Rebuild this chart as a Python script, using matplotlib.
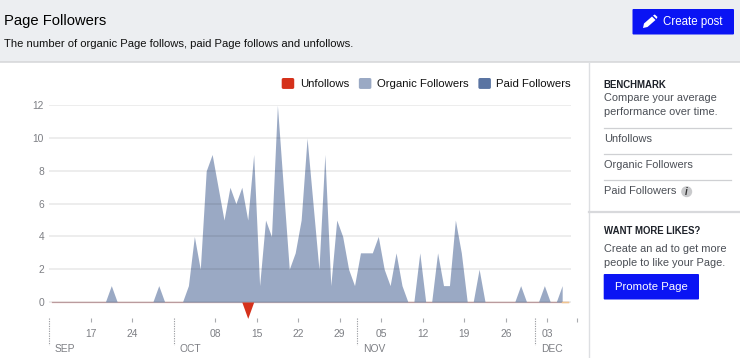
import matplotlib
matplotlib.use("Agg")
import matplotlib.pyplot as plt
import matplotlib.dates as mdates
import numpy as np
import pandas as pd
from matplotlib.patches import Rectangle, Patch, Polygon, Circle, FancyBboxPatch
from matplotlib.legend_handler import HandlerPatch

plt.rcParams['font.family'] = ['Liberation Sans', 'DejaVu Sans']

# ---- data ----
organic = [0,0,0,0,0,0,0,0,0,0,1,0,0,0,0,0,0,0,1,0,0,0,0,1,4,2,8,9,7,5,7,6,7,5,9,1,5,4,12,7,2,3,5,10,6,2,9,1,5,4,2,1,
           3,3,3,4,2,1,3,1,0,0,3,0,0,3,1,1,5,3,0,0,2,0,0,0,0,0,0,1,0,0,0,1,0,0,1]
unfollows = [0]*33 + [-1] + [0]*54
paid = [0]*88
y_ticks = [0, 2, 4, 6, 8, 10, 12]
day_ticks = ['2018-09-17','2018-09-24','2018-10-08','2018-10-15','2018-10-22','2018-10-29','2018-11-05',
             '2018-11-12','2018-11-19','2018-11-26','2018-12-03','2018-12-08']
day_labels = ['17','24','08','15','22','29','05','12','19','26','03','']
month_ticks = ['2018-09-10','2018-10-01','2018-11-01','2018-12-01']
month_labels = ['SEP','OCT','NOV','DEC']
legend_labels = ['Unfollows','Organic Followers','Paid Followers']
benchmark_items = ['Unfollows','Organic Followers','Paid Followers']

C_RED='#d5311b'; C_ORG='#9aa9c4'; C_PAID='#5a74a2'; C_BTN='#0a14f4'; C_TICK='#7d7f84'
C_TXT='#4b4f56'
BODY=7.95

W,H=740,358
fig=plt.figure(figsize=(W/100,H/100),dpi=100,facecolor='white')

# page chrome, in pixel coordinates
ui=fig.add_axes([0,0,1,1]); ui.set_xlim(0,W); ui.set_ylim(H,0); ui.axis('off')
ui.add_patch(Rectangle((0,0),W,61.5,fc='#eceef1',ec='none'))
ui.plot([0,W],[62,62],color='#d5d6d8',lw=1.1)
ui.plot([589.3,589.3],[62,H],color='#dddfe2',lw=1.0)
ui.plot([589,W],[211.5,211.5],color='#d8d9dc',lw=1.6)
ui.text(4.5,20.5,'Page Followers',fontsize=10.6,color='black',va='center')
ui.text(4.5,44.3,'The number of organic Page follows, paid Page follows and unfollows.',fontsize=8.1,color='#111111',va='center')

ui.add_patch(FancyBboxPatch((632.5,9),101.5,25.5,boxstyle='round,pad=0,rounding_size=1',fc=C_BTN,ec='none'))
ui.add_patch(Polygon([[643,28],[644,23.5],[652,16.5],[655.5,20],[647.5,27]],fc='white',ec='none'))
ui.add_patch(Polygon([[653,15.5],[654.8,14.5],[657.5,17],[656.5,19]],fc='white',ec='none'))
ui.text(663,21.5,'Create post',fontsize=8.3,color='white',va='center')

ui.text(603.7,84.5,'BENCHMARK',fontsize=6.9,weight='bold',color='#1d2129',va='center')
ui.text(603.7,98,'Compare your average',fontsize=BODY,color=C_TXT,va='center')
ui.text(603.7,112,'performance over time.',fontsize=BODY,color=C_TXT,va='center')
for yy in [127.5,153.5,180]:
    ui.plot([603.5,731],[yy,yy],color='#cfd0d3',lw=0.9)
for yy,s in zip([138.5,165,191],benchmark_items):
    ui.text(603.7,yy,s,fontsize=BODY,color=C_TXT,va='center')
ui.add_patch(Circle((686.7,191.7),5.5,fc='#c9cacc',ec='none'))
ui.text(686.7,191.7,'i',fontsize=7,style='italic',weight='bold',color='#333333',ha='center',va='center')
ui.text(603.7,231.5,'WANT MORE LIKES?',fontsize=6.9,weight='bold',color='#1d2129',va='center')
ui.text(603.7,249,'Create an ad to get more',fontsize=BODY,color=C_TXT,va='center')
ui.text(603.7,263,'people to like your Page.',fontsize=BODY,color=C_TXT,va='center')
ui.add_patch(FancyBboxPatch((603.7,274),95.3,25.5,boxstyle='round,pad=0,rounding_size=1',fc=C_BTN,ec='none'))
ui.text(651.3,287,'Promote Page',fontsize=8.2,color='white',ha='center',va='center')

# chart axes: 49..577 px spans 89 days, value 12 at 105.3 px, axes bottom 322 px
L,R,T,B=49,577,105.3,322
ax=fig.add_axes([L/W,1-B/H,(R-L)/W,(B-T)/H])
ax.patch.set_alpha(0)
for s in ax.spines.values(): s.set_visible(False)
dates=pd.date_range('2018-09-10 12:00',periods=88,freq='D')
n=mdates.date2num(dates)
x0=mdates.date2num(pd.Timestamp('2018-09-10'))

ax.set_yticks(y_ticks)
ax.tick_params(axis='y',length=0,labelsize=7.4,labelcolor=C_TICK,pad=3.6)

orgx=n[:len(organic)]
ax.fill_between(orgx,0,organic,color=C_ORG,lw=0,zorder=2)
ax.plot(n,np.zeros(len(n)),color='#e3a79f',lw=0.9,zorder=1.5)
ax.plot(n[-2:],paid[-2:],color='#f0c48f',lw=1.0,zorder=3)
ax.plot(orgx,np.zeros(len(orgx)),color=C_ORG,lw=0.5,alpha=0.5,zorder=2)
ax.hlines(y_ticks,x0,x0+88,color='black',alpha=0.095,lw=1.1,zorder=2.5)
ax.fill_between(n[32:35],0,unfollows[32:35],color=C_RED,lw=0,zorder=3)

ax.set_xticks(mdates.date2num(pd.to_datetime(day_ticks)),labels=day_labels)
ax.tick_params(axis='x',direction='in',length=2.9,width=0.8,color='#a9abaf',labelsize=7.4,labelcolor=C_TICK,pad=4.8)
ax.set_xlim(x0,x0+89)
ax.set_ylim(-(B-302)/16.4,12)

for d,lab in zip(month_ticks,month_labels):
    xx=mdates.date2num(pd.Timestamp(d))
    px=L+(xx-x0)/89*(R-L)
    ui.plot([px,px],[318,345],color='#9c9ea3',lw=0.8,ls=(0,(1.1,1.1)),zorder=5)
    ui.text(px+5.5,349,lab,fontsize=7.4,color=C_TICK,va='center')

def rounded(legend,orig_handle,xdescent,ydescent,width,height,fontsize):
    return FancyBboxPatch((-xdescent,-ydescent),width,height,boxstyle='round,pad=0,rounding_size=1.2')

handles=[Patch(fc=C_RED,ec='none'),Patch(fc=C_ORG,ec='none'),Patch(fc=C_PAID,ec='none')]
leg=ax.legend(handles,legend_labels,ncols=3,loc='upper right',
              handler_map={Patch:HandlerPatch(patch_func=rounded)},
              frameon=False,fontsize=8.2,handlelength=1.1,handleheight=1.1,handletextpad=0.48,
              columnspacing=0.87,borderpad=0,borderaxespad=0)
leg.set_bbox_to_anchor((571/W,1-78/H),transform=fig.transFigure)
for t in leg.get_texts(): t.set_color('#111111')

fig.savefig('out.png',dpi=100)
